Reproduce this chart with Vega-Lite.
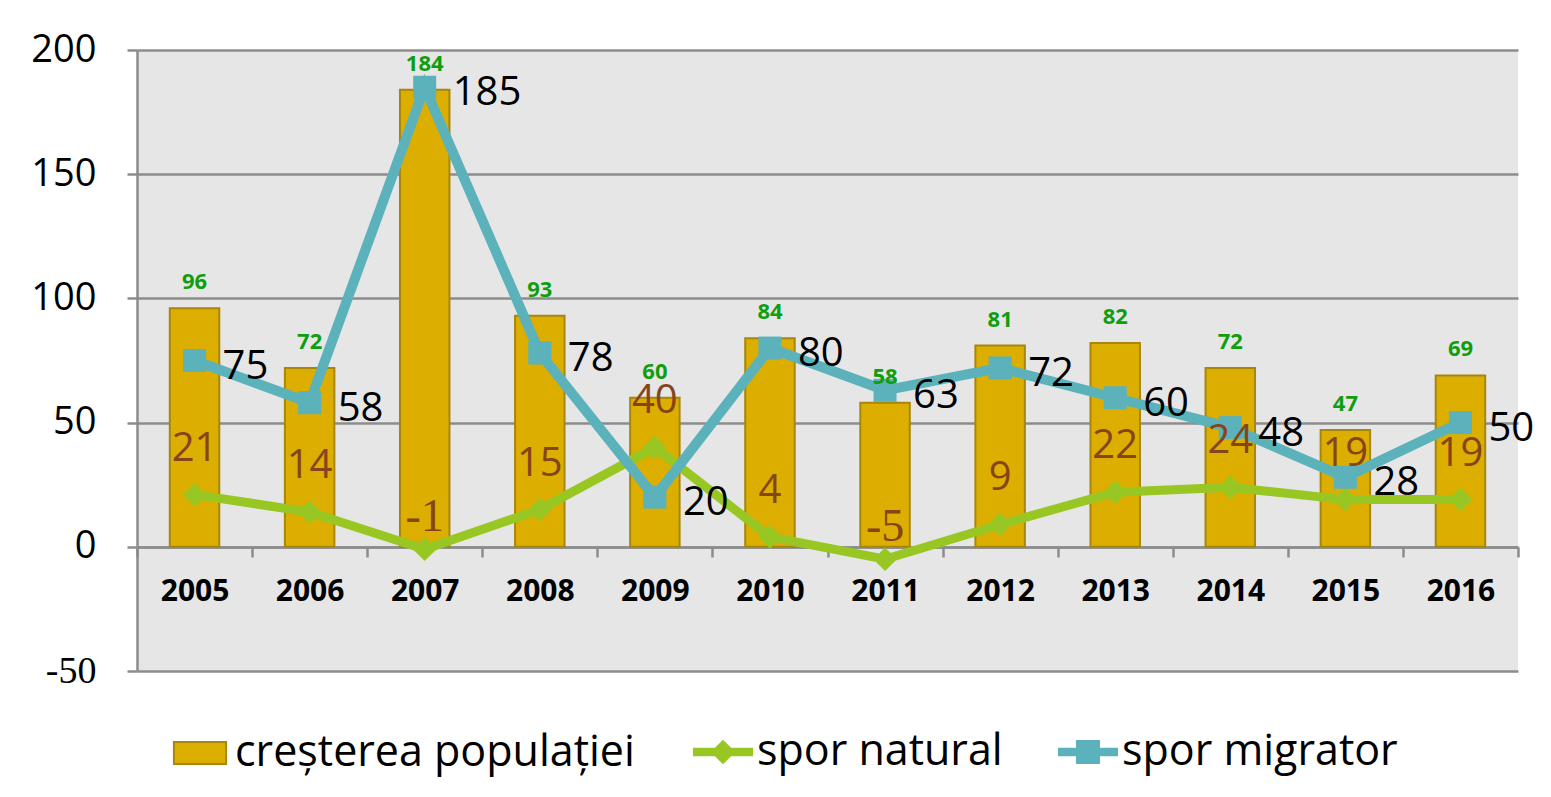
{
  "$schema": "https://vega.github.io/schema/vega-lite/v6.json",
  "autosize": "none",
  "width": 1381,
  "height": 621,
  "padding": {"left": 137, "top": 50, "right": 33, "bottom": 126},
  "background": "white",
  "config": {
    "view": {"fill": "#E6E6E6", "stroke": null},
    "font": "Open Sans",
    "legend": {
      "title": null, "orient": "none", "direction": "horizontal",
      "symbolSize": 3600, "labelFontSize": 43, "labelColor": "#000000",
      "labelLimit": 600, "labelOffset": 4, "symbolOpacity": 1, "symbolStrokeWidth": 2
    }
  },
  "data": {
    "values": [
      {"year": "2005", "crestere": 96, "natural": 21, "migrator": 75},
      {"year": "2006", "crestere": 72, "natural": 14, "migrator": 58},
      {"year": "2007", "crestere": 184, "natural": -1, "migrator": 185},
      {"year": "2008", "crestere": 93, "natural": 15, "migrator": 78},
      {"year": "2009", "crestere": 60, "natural": 40, "migrator": 20},
      {"year": "2010", "crestere": 84, "natural": 4, "migrator": 80},
      {"year": "2011", "crestere": 58, "natural": -5, "migrator": 63},
      {"year": "2012", "crestere": 81, "natural": 9, "migrator": 72},
      {"year": "2013", "crestere": 82, "natural": 22, "migrator": 60},
      {"year": "2014", "crestere": 72, "natural": 24, "migrator": 48},
      {"year": "2015", "crestere": 47, "natural": 19, "migrator": 28},
      {"year": "2016", "crestere": 69, "natural": 19, "migrator": 50}
    ]
  },
  "resolve": {"legend": {"color": "independent"}},
  "encoding": {
    "x": {
      "field": "year", "type": "nominal",
      "scale": {"type": "band", "paddingInner": 0, "paddingOuter": 0},
      "axis": {
        "title": null, "offset": -124, "grid": false,
        "domainColor": "#8C8C8C", "domainWidth": 2.5,
        "tickColor": "#8C8C8C", "tickWidth": 2.5, "tickSize": 10, "tickBand": "extent",
        "labelFontSize": 30, "labelFontWeight": "bold", "labelColor": "#000000",
        "labelPadding": 19, "labelAngle": 0
      }
    }
  },
  "layer": [
    {
      "mark": {"type": "bar", "width": {"band": 0.43}, "stroke": "#A8860A", "strokeWidth": 2},
      "encoding": {
        "y": {
          "field": "crestere", "type": "quantitative",
          "scale": {"domain": [-50, 200], "nice": false, "zero": false},
          "axis": {
            "title": null, "values": [-50, 0, 50, 100, 150, 200],
            "grid": true, "gridColor": "#8C8C8C", "gridWidth": 2.5,
            "domainColor": "#8C8C8C", "domainWidth": 2.5,
            "tickColor": "#8C8C8C", "tickWidth": 2.5, "tickSize": 10,
            "labelFontSize": 38, "labelColor": "#000000", "labelPadding": 31,
            "labelExpr": "'' + datum.value",
            "labelFont": {"condition": {"test": "datum.value < 0", "value": "Liberation Serif"}, "value": "Open Sans"}
          }
        },
        "color": {
          "datum": "creșterea populației",
          "scale": {
            "domain": ["creșterea populației", "spor natural", "spor migrator"],
            "range": ["#DCAE00", "#98C723", "#5BB2BB"]
          },
          "legend": {
            "values": ["creșterea populației"], "legendX": 32, "legendY": 672,
            "symbolType": "M-0.87,-0.37H0.87V0.37H-0.87Z",
            "symbolFillColor": "#DCAE00", "symbolStrokeColor": "#A8860A"
          }
        }
      }
    },
    {
      "mark": {"type": "line", "strokeWidth": 9},
      "encoding": {
        "y": {"field": "natural", "type": "quantitative"},
        "color": {"datum": "spor natural", "legend": null}
      }
    },
    {
      "mark": {"type": "point", "shape": "diamond", "size": 560, "filled": true, "opacity": 1},
      "encoding": {
        "y": {"field": "natural", "type": "quantitative"},
        "color": {
          "datum": "spor natural",
          "legend": {
            "values": ["spor natural"], "legendX": 556, "legendY": 672,
            "symbolType": "M-1,-0.14H-0.27L0,-0.41L0.27,-0.14H1V0.14H0.27L0,0.41L-0.27,0.14H-1Z",
            "symbolFillColor": "#98C723", "symbolStrokeColor": "#98C723", "symbolStrokeWidth": 0
          }
        }
      }
    },
    {
      "mark": {"type": "line", "strokeWidth": 10},
      "encoding": {
        "y": {"field": "migrator", "type": "quantitative"},
        "color": {"datum": "spor migrator", "legend": null}
      }
    },
    {
      "mark": {"type": "point", "shape": "square", "size": 530, "filled": true, "opacity": 1},
      "encoding": {
        "y": {"field": "migrator", "type": "quantitative"},
        "color": {
          "datum": "spor migrator",
          "legend": {
            "values": ["spor migrator"], "legendX": 921, "legendY": 672,
            "symbolType": "M-1,-0.14H-0.4V-0.4H0.4V-0.14H1V0.14H0.4V0.4H-0.4V0.14H-1Z",
            "symbolFillColor": "#5BB2BB", "symbolStrokeColor": "#5BB2BB", "symbolStrokeWidth": 0
          }
        }
      }
    },
    {
      "mark": {"type": "text", "baseline": "alphabetic", "dy": -19, "fontSize": 22, "fontWeight": "bold", "color": "#0E9E0E"},
      "encoding": {
        "y": {"field": "crestere", "type": "quantitative"},
        "text": {"field": "crestere", "type": "quantitative"}
      }
    },
    {
      "mark": {"type": "text", "baseline": "middle", "color": "#86441A",
               "dy": {"expr": "datum.natural < 0 ? -32 : -46"},
               "fontSize": {"expr": "datum.natural < 0 ? 46 : 40"},
               "font": {"expr": "datum.natural < 0 ? 'Liberation Serif' : 'Open Sans'"}},
      "encoding": {
        "y": {"field": "natural", "type": "quantitative"},
        "text": {"field": "natural", "type": "nominal"}
      }
    },
    {
      "mark": {"type": "text", "baseline": "middle", "align": "left", "dx": 28, "dy": 6, "fontSize": 40, "color": "#000000"},
      "encoding": {
        "y": {"field": "migrator", "type": "quantitative"},
        "text": {"field": "migrator", "type": "quantitative"}
      }
    }
  ]
}
